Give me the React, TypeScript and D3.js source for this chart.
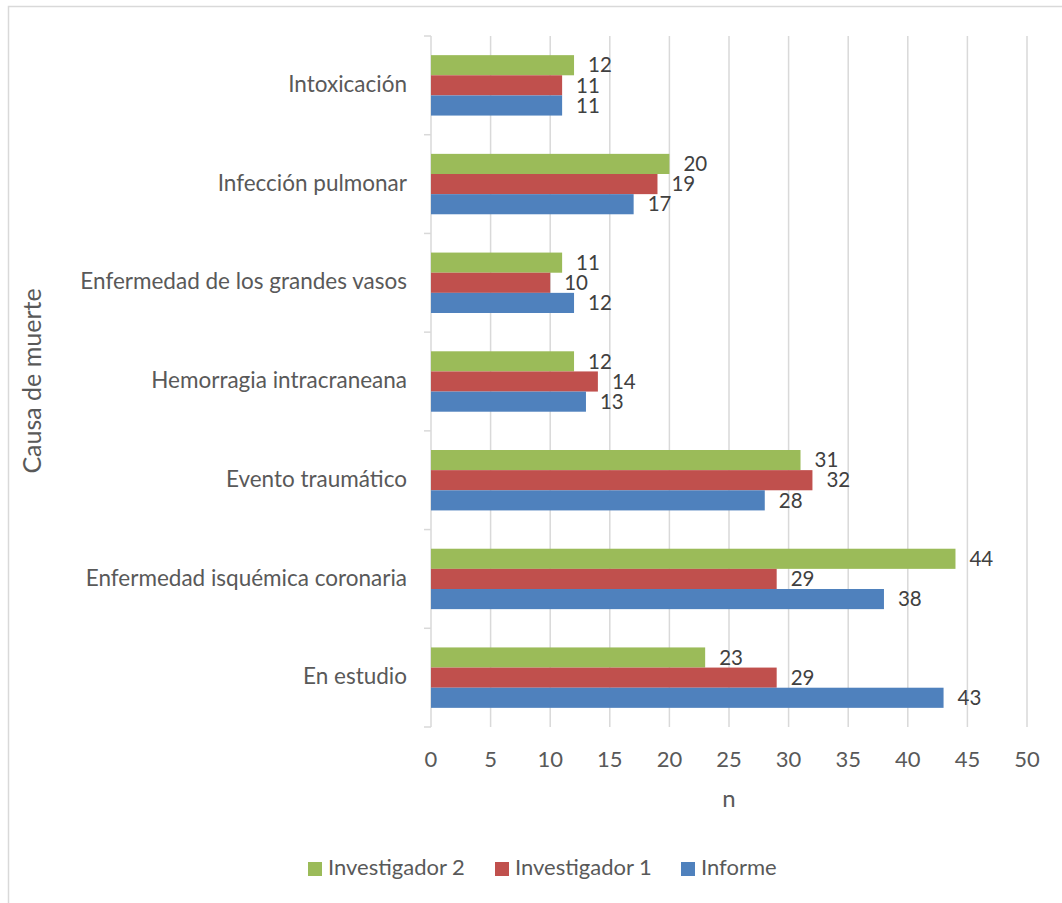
import React from "react";
import * as d3 from "d3";

const categories = [
  "Intoxicación",
  "Infección pulmonar",
  "Enfermedad de los grandes vasos",
  "Hemorragia intracraneana",
  "Evento traumático",
  "Enfermedad isquémica coronaria",
  "En estudio",
];
const seriesNames = ["Investigador 2", "Investigador 1", "Informe"];
const investigador2 = [12, 20, 11, 12, 31, 44, 23];
const investigador1 = [11, 19, 10, 14, 32, 29, 29];
const informe = [11, 17, 12, 13, 28, 38, 43];
const xTicks = [0, 5, 10, 15, 20, 25, 30, 35, 40, 45, 50];
const colors = ["#9BBB59", "#C0504D", "#4F81BD"];

const W = 1062;
const H = 903;
const FONT = "Lato, 'Open Sans', sans-serif";

export default function App() {
  const seriesValues = [investigador2, investigador1, informe];
  const x = d3.scaleLinear().domain([0, 50]).range([431, 1027]);
  const y = d3
    .scaleBand<string>()
    .domain(categories)
    .range([36, 727])
    .paddingInner(0.388)
    .paddingOuter(0.194);
  const inner = d3
    .scaleBand<string>()
    .domain(seriesNames)
    .range([0, y.bandwidth()]);
  const step = y.step();
  const boundaries = d3.range(categories.length + 1).map((i) => 36 + i * step);

  const legendItems = [
    { name: seriesNames[0], x: 308 },
    { name: seriesNames[1], x: 495 },
    { name: seriesNames[2], x: 681 },
  ];

  return (
    <svg
      width={W}
      height={H}
      style={{ position: "absolute", left: 0, top: 0, background: "#fff" }}
      fontFamily={FONT}
    >
      <rect x={8.5} y={6.5} width={1070} height={920} fill="#fff" stroke="#d9d9d9" strokeWidth={1.5} />
      {/* gridlines */}
      {xTicks.map((t) => (
        <line key={"g" + t} x1={x(t)} x2={x(t)} y1={36} y2={727} stroke="#d9d9d9" strokeWidth={1.5} />
      ))}
      {/* y axis ticks */}
      {boundaries.map((b, i) => (
        <line key={"t" + i} x1={424} x2={431} y1={b} y2={b} stroke="#d9d9d9" strokeWidth={1.5} />
      ))}
      {/* bars */}
      {categories.map((c, ci) =>
        seriesNames.map((s, si) => {
          const v = seriesValues[si][ci];
          const by = (y(c) as number) + (inner(s) as number);
          return (
            <g key={c + s}>
              <rect x={x(0)} y={by} width={x(v) - x(0)} height={inner.bandwidth()} fill={colors[si]} />
              <text
                x={x(v) + 14}
                y={by + inner.bandwidth() / 2 + 2}
                dominantBaseline="middle"
                fontSize={20.5}
                fill="#404040"
              >
                {v}
              </text>
            </g>
          );
        })
      )}
      {/* category labels */}
      {categories.map((c) => (
        <text
          key={"l" + c}
          x={407}
          y={(y(c) as number) + y.bandwidth() / 2 + 1}
          textAnchor="end"
          dominantBaseline="middle"
          fontSize={22.5}
          fill="#595959"
        >
          {c}
        </text>
      ))}
      {/* x tick labels */}
      {xTicks.map((t) => (
        <text key={"x" + t} x={x(t)} y={761} textAnchor="middle" dominantBaseline="middle" fontSize={22} fill="#595959">
          {t}
        </text>
      ))}
      <text x={729} y={801} textAnchor="middle" dominantBaseline="middle" fontSize={24} fill="#595959">
        n
      </text>
      <text
        transform="translate(35,381) rotate(-90)"
        textAnchor="middle"
        dominantBaseline="middle"
        fontSize={25}
        fill="#595959"
      >
        Causa de muerte
      </text>
      {/* legend */}
      {legendItems.map((l, i) => (
        <g key={"lg" + i}>
          <rect x={l.x} y={862} width={14} height={14} fill={colors[i]} />
          <text x={l.x + 20} y={869} dominantBaseline="middle" fontSize={22} fill="#595959">
            {l.name}
          </text>
        </g>
      ))}
    </svg>
  );
}
